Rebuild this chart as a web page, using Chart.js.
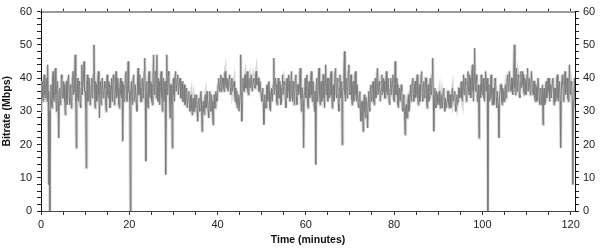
<!DOCTYPE html>
<html>
<head>
<meta charset="utf-8">
<script src="https://cdn.jsdelivr.net/npm/chart.js@4/dist/chart.umd.min.js"></script>
<style>
  html, body { margin: 0; padding: 0; background: #ffffff; }
  #wrap { width: 600px; height: 248px; position: relative; }
</style>
</head>
<body>
<div id="wrap"><canvas id="c"></canvas></div>
<script>
// Sampling: first sample at minute 0, one sample every 0.125 minutes
const startMinute = 0;
const stepMinutes = 0.125;

// Bitrate (Mbps), 40 samples per 5 minutes
const bitrate = [
  30,36,39,34,33,40,41,35,34,38,40,33,44,36,8,30,0,35,38,32,31,40,42,34,33,39,43,35,30,37,39,33,22,36,37,32,33,41,40,34,
  34,39,38,33,29,36,39,32,35,40,41,34,32,38,37,31,33,40,42,35,36,41,47,33,19,36,40,34,33,39,38,32,31,37,44,35,35,40,45,36,
  36,31,13,38,41,33,34,40,39,32,33,38,40,34,35,41,50,36,31,39,38,33,34,40,42,35,28,37,39,32,33,40,40,34,35,39,37,33,30,38,
  41,35,34,39,38,31,32,37,40,33,36,41,39,32,33,38,42,34,35,40,37,32,31,38,40,35,34,39,21,36,38,33,35,41,42,34,33,39,45,36,
  36,33,0,37,39,34,32,40,41,33,34,38,38,32,30,39,43,35,35,41,37,33,33,39,40,34,36,42,46,35,15,38,39,32,31,40,42,35,34,39,
  38,33,32,40,47,36,35,42,41,34,47,37,33,40,39,32,36,41,42,34,30,38,40,33,33,39,11,36,47,35,36,42,41,33,28,38,38,32,19,37,
  40,35,33,41,42,36,36,40,41,35,35,39,40,34,34,38,39,33,33,37,38,32,32,36,37,31,31,35,36,32,30,34,35,31,29,33,34,30,30,35,
  31,34,35,30,27,33,34,31,30,35,36,32,24,31,33,30,29,34,35,31,31,36,34,30,28,33,36,31,30,35,33,29,26,32,35,31,31,36,34,33,
  35,38,40,37,36,39,41,36,37,40,40,37,36,41,42,38,37,40,39,36,36,40,41,37,35,39,40,36,36,38,39,35,33,37,36,32,31,34,35,30,
  30,35,47,33,27,36,40,37,36,40,41,37,37,41,42,36,35,39,40,37,38,41,41,36,36,40,39,37,37,41,42,38,38,40,40,36,36,39,39,35,
  33,36,37,32,26,34,35,31,31,37,38,33,34,39,36,31,30,35,37,33,33,38,46,35,35,40,38,33,32,37,40,34,34,39,37,32,33,38,41,35,
  35,39,38,33,31,37,40,34,36,41,39,33,34,38,42,35,33,39,37,32,35,40,41,34,32,38,38,35,36,41,43,34,30,37,37,33,19,35,36,40,
  34,38,41,33,31,37,39,34,35,40,42,35,33,39,38,32,30,36,14,38,40,33,34,41,43,35,32,38,39,33,35,41,41,34,31,38,44,35,36,40,
  33,38,40,34,35,41,42,35,31,37,38,33,36,42,43,35,34,40,39,32,30,37,41,34,35,39,20,36,37,41,48,35,33,39,40,34,36,42,44,36,
  35,39,41,34,32,38,39,33,36,41,42,35,33,38,38,32,31,35,36,30,27,33,33,29,24,32,35,30,28,34,34,29,25,33,36,31,30,37,38,33,
  34,38,39,33,32,37,40,34,36,41,43,35,35,39,38,33,33,37,41,35,36,40,39,34,34,38,42,36,35,40,38,33,32,37,40,35,36,39,41,34,
  33,38,45,35,35,40,38,32,31,36,37,33,33,38,36,31,30,35,34,29,23,31,32,28,28,33,35,30,31,36,38,33,34,39,40,35,33,37,39,34,
  35,39,41,34,32,37,38,33,36,41,42,35,33,38,39,34,35,40,40,33,31,36,38,33,34,39,40,35,36,41,46,35,24,33,37,32,31,36,35,32,
  33,35,36,32,31,34,35,31,32,36,37,33,30,34,34,31,33,36,36,32,31,35,35,31,32,36,37,33,33,35,36,32,30,34,35,32,33,37,37,34,
  35,38,39,34,33,37,41,35,36,40,38,33,34,39,42,36,35,41,40,34,37,42,44,36,33,39,49,37,36,41,39,33,34,38,22,35,38,34,41,36,
  35,39,40,34,33,38,42,36,36,40,0,35,38,33,34,39,41,35,32,37,37,32,35,40,39,34,31,36,36,32,22,34,34,38,38,33,32,37,36,33,
  33,37,38,34,35,40,41,36,37,42,42,37,36,40,40,35,38,43,50,37,35,41,43,36,37,41,40,35,34,39,42,37,38,42,41,36,35,40,39,35,
  37,41,43,36,36,40,40,35,38,42,42,36,35,39,39,34,33,38,37,33,35,40,40,34,32,37,36,32,34,38,26,35,37,32,33,38,39,34,35,40,
  36,40,33,37,38,34,34,39,40,35,32,37,37,33,35,40,41,34,33,38,39,33,19,36,36,41,38,33,34,39,42,35,36,40,40,34,33,38,44,36,
  35,39,38,33,8,31,36,40,33
];

// Axis ranges and tick labels
const xMin = 0, xMax = 121, xTickFirst = 0, xTickLast = 120, xMinorStep = 5, xLabelEvery = 20;
const yMin = 0, yMax = 60, yMinorStep = 2, yLabelEvery = 10;
const xTitle = 'Time (minutes)';
const yTitle = 'Bitrate (Mbps)';

const points = bitrate.map((v, i) => ({ x: startMinute + i * stepMinutes, y: v }));

const FONT = '"Liberation Sans", Arial, sans-serif';
const tickFont = { family: FONT, size: 11 };
const titleFont = { family: FONT, size: 10.5, weight: 'bold' };

function xTicks(scale) {
  const t = [];
  for (let v = xTickFirst; v <= xTickLast; v += xMinorStep) t.push({ value: v });
  scale.ticks = t;
}

new Chart(document.getElementById('c'), {
  type: 'line',
  data: {
    datasets: [
      { data: points, borderColor: '#7c7c7c', borderWidth: 1, pointRadius: 0, tension: 0, order: 1 },
      { data: points, borderColor: '#d8d8d8', borderWidth: 3, pointRadius: 0, tension: 0, order: 2 }
    ]
  },
  options: {
    responsive: true,
    maintainAspectRatio: false,
    animation: false,
    events: [],
    layout: { padding: 0 },
    plugins: { legend: { display: false }, tooltip: { enabled: false } },
    scales: {
      x: {
        type: 'linear', position: 'bottom', min: xMin, max: xMax,
        afterBuildTicks: xTicks,
        ticks: {
          autoSkip: false, maxRotation: 0, padding: 3,
          color: '#222', font: tickFont,
          callback: v => (v % xLabelEvery === 0 ? String(v) : '')
        },
        grid: { drawOnChartArea: false, tickLength: 4, color: '#333' },
        border: { color: '#444', width: 1 },
        title: { display: true, text: xTitle, color: '#111', font: titleFont, padding: { top: 0, bottom: 2 } },
        afterFit: s => { s.height = 37; }
      },
      xTop: {
        type: 'linear', position: 'top', min: xMin, max: xMax,
        afterBuildTicks: xTicks,
        ticks: { autoSkip: false, display: false },
        grid: { drawOnChartArea: false, tickLength: 3, color: '#333' },
        border: { color: '#9a9a9a', width: 2 },
        afterFit: s => { s.height = 8; }
      },
      y: {
        type: 'linear', position: 'left', min: yMin, max: yMax,
        ticks: {
          stepSize: yMinorStep, autoSkip: false, padding: 5,
          color: '#222', font: tickFont,
          callback: v => (v % yLabelEvery === 0 ? String(v) : '')
        },
        grid: { drawOnChartArea: false, tickLength: 4, color: '#222' },
        border: { color: '#111', width: 1 },
        title: { display: true, text: yTitle, color: '#111', font: titleFont, padding: { top: 1, bottom: 0 } },
        afterFit: s => { s.width = 41; }
      },
      yRight: {
        type: 'linear', position: 'right', min: yMin, max: yMax,
        ticks: {
          stepSize: yMinorStep, autoSkip: false, padding: 4,
          color: '#222', font: tickFont,
          callback: v => (v % yLabelEvery === 0 ? String(v) : '')
        },
        grid: { drawOnChartArea: false, tickLength: 4, color: '#222' },
        border: { color: '#111', width: 1 },
        afterFit: s => { s.width = 25; }
      }
    }
  }
});
</script>
</body>
</html>
